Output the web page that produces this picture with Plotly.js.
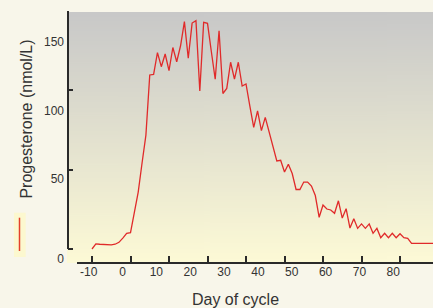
<!DOCTYPE html>
<html><head><meta charset="utf-8">
<script src="https://cdn.plot.ly/plotly-3.0.1.min.js"></script>
<style>html,body{margin:0;padding:0;background:#f8f6ea;overflow:hidden}#chart{width:433px;height:308px}</style>
</head><body><div id="chart"></div>
<script>
// ---- data ----
const days = [-10,-9,-8,-7,-6,-5,-4,-3,-2,-1,0,1,2,3,4,5,6,7,8,9,10,11,12,13,14,15,16,17,18,19,20,21,22,23,24,25,26,27,28,29,30,31,32,33,34,35,36,37,38,39,40,41,42,43,44,45,46,47,48,49,50,51,52,53,54,55,56,57,58,59,60,61,62,63,64,65,66,67,68,69,70,71,72,73,74,75,76,77,78,79];
const progesterone = [0,3.2,3.0,2.8,2.5,2.6,3.0,4.2,6.9,9.9,10.3,22.1,35.9,54.2,71.8,109.7,110.1,123.8,114.9,122.9,112.4,127.0,118.0,128.1,143.3,120.2,142.4,143.9,99.6,142.9,142.2,124.3,107.0,137.6,98.0,101.2,117.7,107.1,117.7,102.7,104.0,90.1,76.6,87.0,74.6,83.0,74.1,64.9,55.5,55.9,48.5,53.4,47.6,37.5,37.5,42.2,42.2,39.7,33.7,20.0,27.7,25.2,24.6,22.5,30.4,19.5,25.4,13.2,19.1,13.0,15.8,13.0,15.8,9.9,13.0,7.1,9.9,7.1,9.9,7.1,9.6,7.1,6.7,3.6,3.6,3.6,3.6,3.6,3.6,3.6];
const xTickMarks = [-10,0,10,20,30,40,50,60,70];
const xLabelValues = [-10,0,10,20,30,40,50,60,70,80];
const xLabelText = ['-10','0','10','20','30','40','50','60','70','80'];
const yTickMarks = [0,50,100,150];
const yLabelValues = [-8.79,50,100,150];
const yLabelText = ['0','50','100','150'];

// ---- background gradient image ----
const cv = document.createElement('canvas'); cv.width = 4; cv.height = 256;
const ctx = cv.getContext('2d');
const grd = ctx.createLinearGradient(0,0,0,256);
grd.addColorStop(0,'#c8c8c8'); grd.addColorStop(1,'#fdfad6');
ctx.fillStyle = grd; ctx.fillRect(0,0,4,256);
const bgImg = cv.toDataURL();

const W=433, L=67, T=11, B=262, PW=W-L, PH=B-T;
const xf = px => (px-L)/PW;
const yf = py => (B-py)/PH;
const FONT = 'Liberation Sans, Arial, sans-serif';
const AX = '#2a2a2a';
const hidden = {visible:true, showline:false, ticks:'', showticklabels:false, showgrid:false, zeroline:false, fixedrange:true};

const traces = [
  {x: days, y: progesterone, type:'scatter', mode:'lines', line:{color:'#e02a2a', width:1.3}, hoverinfo:'skip', showlegend:false},
  {x: [null], y: [null], type:'scatter', mode:'lines', xaxis:'x', yaxis:'y2', showlegend:false, hoverinfo:'skip'},
  {x: [null], y: [null], type:'scatter', mode:'lines', xaxis:'x', yaxis:'y3', showlegend:false, hoverinfo:'skip'},
  {x: [null], y: [null], type:'scatter', mode:'lines', xaxis:'x3', yaxis:'y4', showlegend:false, hoverinfo:'skip'},
  {x: [null], y: [null], type:'scatter', mode:'lines', xaxis:'x4', yaxis:'y4', showlegend:false, hoverinfo:'skip'}
];

const layout = {
  width: 433, height: 308,
  margin: {l:L, r:0, t:T, b:308-B, pad:0},
  paper_bgcolor: '#f8f6ea', plot_bgcolor: 'rgba(0,0,0,0)',
  font: {family: FONT, color: '#333', size: 12},
  showlegend: false,
  // data x axis: frame line starting at x=77 with inward ticks
  xaxis: Object.assign({}, hidden, {domain:[xf(77),1], range:[-13.9,78.57],
    showline:true, linecolor:AX, linewidth:2, ticks:'inside', tickmode:'array', tickvals:xTickMarks,
    ticklen:6, tickwidth:2, tickcolor:AX}),
  // data y axis: inward ticks only, at the left edge of the plot area
  yaxis: Object.assign({}, hidden, {domain:[0,1], range:[-8.19,150], anchor:'free', position:0,
    ticks:'inside', tickmode:'array', tickvals:yTickMarks, ticklen:5, tickwidth:2, tickcolor:AX}),
  // y tick labels
  yaxis2: Object.assign({}, hidden, {overlaying:'y', side:'left', anchor:'free', position:0, range:[-10.99,172.9],
    showticklabels:true, tickmode:'array', tickvals:yLabelValues, ticktext:yLabelText, ticklabelstandoff:3,
    tickfont:{family:FONT, size:12, color:'#333'}}),
  // x tick labels
  xaxis3: Object.assign({}, hidden, {domain:[xf(77),1], anchor:'free', position:0, range:[-13.44,91.73],
    showticklabels:true, tickmode:'array', tickvals:xLabelValues, ticktext:xLabelText, ticklabelstandoff:1,
    tickfont:{family:FONT, size:12, color:'#333'}}),
  // y frame line (11..249)
  yaxis3: Object.assign({}, hidden, {domain:[yf(249),1], anchor:'free', position:xf(68), range:[0,150],
    showline:true, linecolor:AX, linewidth:2}),
  yaxis4: Object.assign({}, hidden, {domain:[yf(227),1], anchor:'free', position:0, range:[0,1],
    title:{text:'Progesterone (nmol/L)', font:{family:FONT, size:16, color:'#333'}, standoff:29}}),
  xaxis4: Object.assign({}, hidden, {domain:[0,xf(404)], anchor:'free', position:0, range:[0,1],
    title:{text:'Day of cycle', font:{family:FONT, size:16, color:'#333'}, standoff:31}}),
  images: [{source: bgImg, xref:'paper', yref:'paper', x:0, y:yf(12), sizex:1, sizey:(263-12)/PH, xanchor:'left', yanchor:'top', sizing:'stretch', layer:'below'}],
  shapes: [
    {type:'rect', xref:'paper', yref:'paper', x0:xf(14), x1:xf(25.7), y0:yf(257), y1:yf(212.7), fillcolor:'#fcf8cf', line:{width:0}, layer:'below'},
    {type:'line', xref:'paper', yref:'paper', x0:xf(19.5), x1:xf(19.5), y0:yf(251), y1:yf(217.7), line:{color:'#e4402a', width:1.5}}
  ]
};

Plotly.newPlot('chart', traces, layout, {staticPlot:true, displayModeBar:false});
</script>
</body></html>
